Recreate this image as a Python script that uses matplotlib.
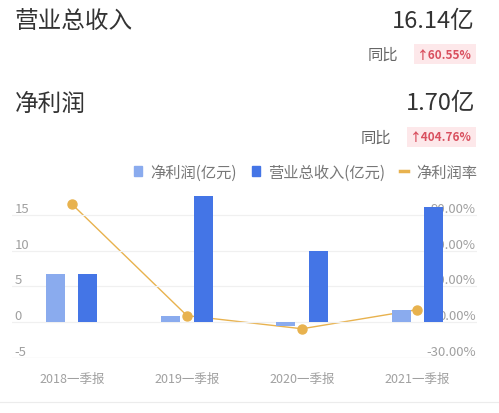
import matplotlib
matplotlib.use("Agg")
import matplotlib.pyplot as plt
from matplotlib.patches import Patch
from matplotlib.lines import Line2D
import numpy as np

plt.rcParams['font.family'] = ['Noto Sans CJK SC', 'DejaVu Sans']

quarters = ['2018一季报', '2019一季报', '2020一季报', '2021一季报']
net_profit = [6.7, 0.9, -0.5, 1.70]
revenue = [6.7, 17.6, 10.0, 16.14]
profit_rate = [99.0, 5.5, -5.5, 10.5]

left_ticks = [-5, 0, 5, 10, 15]
right_ticks = [-30, 0, 30, 60, 90]

C_LIGHT = '#8aabee'
C_DARK = '#4475e6'
C_LINE = '#e8b24e'
C_TICK = '#a0a0a0'
FAM = ['Noto Sans CJK SC', 'DejaVu Sans']

W, H = 499, 414
fig = plt.figure(figsize=(W / 100, H / 100), dpi=100)


def fx(px):
    return px / W


def fy(py):
    return 1 - py / H


# header block
head = dict(fontsize=17, color='#333333', va='center', fontweight='medium')
fig.text(fx(15), fy(21), '营业总收入', ha='left', **head)
fig.text(fx(475), fy(21), '16.14亿', ha='right', **head)
fig.text(fx(398), fy(55), '同比', fontsize=11, color='#666666', va='center', ha='right')
fig.text(fx(472), fy(55), '↑60.55%', fontsize=8.5, color='#d9505f', va='center', ha='right',
         fontweight='bold', bbox=dict(boxstyle='square,pad=0.3', fc='#fde8ea', ec='none'))

fig.text(fx(15), fy(104), '净利润', ha='left', **head)
fig.text(fx(475), fy(104), '1.70亿', ha='right', **head)
fig.text(fx(391), fy(138), '同比', fontsize=11, color='#666666', va='center', ha='right')
fig.text(fx(472), fy(138), '↑404.76%', fontsize=8.5, color='#d9505f', va='center', ha='right',
         fontweight='bold', bbox=dict(boxstyle='square,pad=0.3', fc='#fde8ea', ec='none'))

# chart
ax = fig.add_axes([fx(12), fy(359), fx(477) - fx(12), fy(180) - fy(359)])
ax2 = ax.twinx()
ax.set_zorder(2)
ax2.set_zorder(1)
ax.patch.set_visible(False)

x = np.arange(len(quarters))
bw = 0.165
off = 0.14
ax.bar(x - off, net_profit, bw, color=C_LIGHT, zorder=3)
ax.bar(x + off, revenue, bw, color=C_DARK, zorder=3)

ax2.plot(x, profit_rate, color=C_LINE, lw=1.0, marker='o', ms=6.5, zorder=4)

ax.set_xlim(-0.52, 3.52)
ax.set_ylim(-5, 20)
ax2.set_ylim(-30, 120)

ax.set_yticks(left_ticks)
ax.set_yticklabels([str(v) for v in left_ticks], fontfamily=FAM)
ax2.set_yticks(right_ticks)
ax2.set_yticklabels([f'{v:.2f}%' for v in right_ticks], fontfamily=FAM)

ax.set_xticks(x)
ax.set_xticklabels(quarters, fontfamily=FAM)
ax.tick_params(axis='x', length=0, pad=10, labelsize=9, labelcolor=C_TICK)
ax.tick_params(axis='y', length=0, pad=-2, labelsize=9.5, labelcolor=C_TICK)
ax2.tick_params(axis='y', length=0, pad=-1, labelsize=9.5, labelcolor=C_TICK)
for lbl in ax.get_yticklabels():
    lbl.set_ha('left')
    lbl.set_va('bottom')
for lbl in ax2.get_yticklabels():
    lbl.set_ha('right')
    lbl.set_va('bottom')

for v in left_ticks[1:]:
    ax.axhline(v, color='#f0f0f0', lw=0.9, zorder=0)
ax.axhline(left_ticks[0], color='#e2e2e2', lw=0.9, zorder=0)

for a in (ax, ax2):
    for s in a.spines.values():
        s.set_visible(False)

handles = [Patch(color=C_LIGHT, label='净利润(亿元)'),
           Patch(color=C_DARK, label='营业总收入(亿元)'),
           Line2D([0], [0], color=C_LINE, lw=2.5, label='净利润率')]
fig.legend(handles=handles, loc='center right', bbox_to_anchor=(fx(477), fy(173)), ncol=3,
           frameon=False, fontsize=11, labelcolor='#777777', handlelength=0.55, handleheight=0.55,
           handletextpad=0.5, columnspacing=1.0, borderpad=0, borderaxespad=0)

fig.add_artist(Line2D([0, 1], [fy(403), fy(403)], color='#ececec', lw=0.8))

fig.savefig('out.png', dpi=100)
